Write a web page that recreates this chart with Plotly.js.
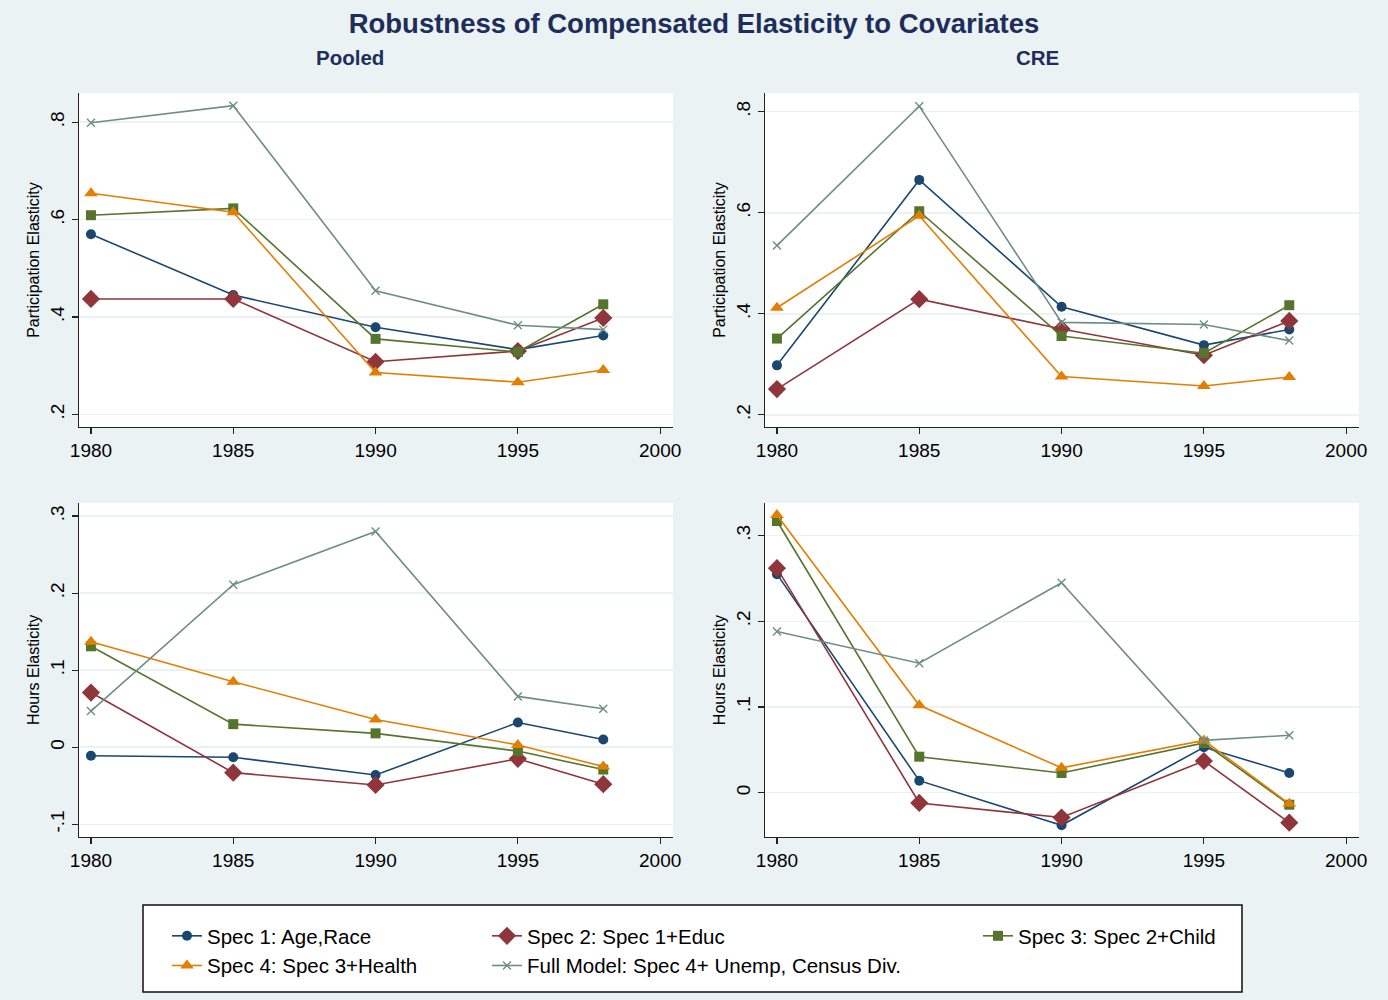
<!DOCTYPE html>
<html>
<head>
<meta charset="utf-8">
<script src="https://cdn.plot.ly/plotly-3.0.1.min.js"></script>
<style>html,body{margin:0;padding:0;background:#eaf2f3;}#chart{width:1388px;height:1000px;}</style>
</head>
<body>
<div id="chart"></div>
<script>
// ---- data ----
const years = [1980, 1985, 1990, 1995, 1998];
const seriesNames = ["Spec 1: Age,Race", "Spec 2: Spec 1+Educ", "Spec 3: Spec 2+Child", "Spec 4: Spec 3+Health", "Full Model: Spec 4+ Unemp, Census Div."];

// Pooled – participation elasticity
const pooledPartSpec1 = [0.570, 0.445, 0.379, 0.333, 0.362];
const pooledPartSpec2 = [0.437, 0.437, 0.308, 0.330, 0.398];
const pooledPartSpec3 = [0.609, 0.623, 0.355, 0.328, 0.426];
const pooledPartSpec4 = [0.654, 0.615, 0.286, 0.266, 0.291];
const pooledPartFull  = [0.799, 0.834, 0.454, 0.383, 0.374];

// CRE – participation elasticity
const crePartSpec1 = [0.298, 0.665, 0.414, 0.338, 0.369];
const crePartSpec2 = [0.251, 0.429, 0.370, 0.318, 0.386];
const crePartSpec3 = [0.351, 0.603, 0.356, 0.322, 0.417];
const crePartSpec4 = [0.412, 0.594, 0.276, 0.257, 0.275];
const crePartFull  = [0.535, 0.811, 0.383, 0.379, 0.347];

// Pooled – hours elasticity
const pooledHoursSpec1 = [-0.011, -0.013, -0.036, 0.032, 0.010];
const pooledHoursSpec2 = [0.071, -0.033, -0.049, -0.015, -0.048];
const pooledHoursSpec3 = [0.131, 0.030, 0.018, -0.005, -0.029];
const pooledHoursSpec4 = [0.137, 0.085, 0.036, 0.003, -0.025];
const pooledHoursFull  = [0.047, 0.211, 0.280, 0.066, 0.050];

// CRE – hours elasticity
const creHoursSpec1 = [0.255, 0.014, -0.038, 0.053, 0.023];
const creHoursSpec2 = [0.262, -0.012, -0.029, 0.037, -0.035];
const creHoursSpec3 = [0.317, 0.042, 0.023, 0.058, -0.014];
const creHoursSpec4 = [0.324, 0.102, 0.029, 0.061, -0.013];
const creHoursFull  = [0.188, 0.151, 0.245, 0.061, 0.067];

const xTickVals = [1980, 1985, 1990, 1995, 2000];
const partTickVals = [0.2, 0.4, 0.6, 0.8];
const partTickText = [".2", ".4", ".6", ".8"];
const pooledHoursTickVals = [-0.1, 0, 0.1, 0.2, 0.3];
const pooledHoursTickText = ["-.1", "0", ".1", ".2", ".3"];
const creHoursTickVals = [0, 0.1, 0.2, 0.3];
const creHoursTickText = ["0", ".1", ".2", ".3"];

// ---- styles ----
const FONT = "Liberation Sans, Arial, Helvetica, sans-serif";
const colors = ["#1a476f", "#90353b", "#55752f", "#e37e00", "#6e8e84"];
const markers = [
  {symbol: "circle", size: 10},
  {symbol: "diamond", size: 14},
  {symbol: "square", size: 10},
  {symbol: "triangle-up", size: 12},
  {symbol: "x-thin-open", size: 8}
];
const legendFor = ["legend", "legend2", "legend3", "legend", "legend2"];

const panels = [
  {xa: "x",  ya: "y",  data: [pooledPartSpec1, pooledPartSpec2, pooledPartSpec3, pooledPartSpec4, pooledPartFull]},
  {xa: "x2", ya: "y2", data: [crePartSpec1, crePartSpec2, crePartSpec3, crePartSpec4, crePartFull]},
  {xa: "x3", ya: "y3", data: [pooledHoursSpec1, pooledHoursSpec2, pooledHoursSpec3, pooledHoursSpec4, pooledHoursFull]},
  {xa: "x4", ya: "y4", data: [creHoursSpec1, creHoursSpec2, creHoursSpec3, creHoursSpec4, creHoursFull]}
];

const traces = [];
panels.forEach((p, pi) => {
  p.data.forEach((vals, si) => {
    traces.push({
      type: "scatter", mode: "lines+markers",
      x: years, y: vals, xaxis: p.xa, yaxis: p.ya,
      name: seriesNames[si],
      legend: legendFor[si],
      showlegend: pi === 0,
      line: {color: colors[si], width: 1.6},
      marker: {color: colors[si], symbol: markers[si].symbol, size: markers[si].size,
               line: {color: colors[si], width: si === 4 ? 1.4 : 0}},
      hoverinfo: "x+y+name"
    });
  });
});

// ---- layout ----
const W = 1388, H = 1000;
const px = v => v / W;
const py = v => 1 - v / H;

function xAxis(domain) {
  return {
    domain: domain, range: [1979.58, 2000.45], tickvals: xTickVals,
    ticks: "outside", ticklen: 6, tickwidth: 1.2, tickcolor: "#222",
    showline: true, linecolor: "#222", linewidth: 1.2, showgrid: false, zeroline: false,
    tickfont: {family: FONT, size: 19, color: "#000"}, fixedrange: true
  };
}
function yAxis(domain, range, vals, text, title) {
  return {
    domain: domain, range: range, tickvals: vals, ticktext: text, tickangle: -90,
    ticks: "outside", ticklen: 6, tickwidth: 1.2, tickcolor: "#222",
    showline: true, linecolor: "#222", linewidth: 1.2,
    showgrid: true, gridcolor: "#eaf2f3", gridwidth: 1.5, zeroline: false,
    tickfont: {family: FONT, size: 19, color: "#000"},
    title: {text: title, font: {family: FONT, size: 16, color: "#000"}, standoff: 3},
    fixedrange: true
  };
}

const xLeft = [px(79), px(673)];
const xRight = [px(765), px(1359)];
const yTop = [py(427), py(93)];
const yBot = [py(837), py(503)];

const legendBase = {
  orientation: "v", bgcolor: "rgba(0,0,0,0)", borderwidth: 0,
  font: {family: FONT, size: 20.5, color: "#000"},
  xanchor: "left", yanchor: "top", itemwidth: 30, tracegroupgap: 0
};

const layout = {
  width: W, height: H,
  paper_bgcolor: "#eaf2f3", plot_bgcolor: "#ffffff",
  margin: {l: 0, r: 0, t: 0, b: 0},
  font: {family: FONT},
  title: {text: "<b>Robustness of Compensated Elasticity to Covariates</b>",
          x: 0.5, xanchor: "center", y: py(23), yanchor: "middle", yref: "paper",
          font: {family: FONT, size: 27.5, color: "#1e2d5a"}},
  xaxis: Object.assign(xAxis(xLeft), {anchor: "y"}),
  yaxis: Object.assign(yAxis(yTop, [0.174, 0.860], partTickVals, partTickText, "Participation Elasticity"), {anchor: "x"}),
  xaxis2: Object.assign(xAxis(xRight), {anchor: "y2"}),
  yaxis2: Object.assign(yAxis(yTop, [0.176, 0.837], partTickVals, partTickText, "Participation Elasticity"), {anchor: "x2"}),
  xaxis3: Object.assign(xAxis(xLeft), {anchor: "y3"}),
  yaxis3: Object.assign(yAxis(yBot, [-0.1165, 0.317], pooledHoursTickVals, pooledHoursTickText, "Hours Elasticity"), {anchor: "x3"}),
  xaxis4: Object.assign(xAxis(xRight), {anchor: "y4"}),
  yaxis4: Object.assign(yAxis(yBot, [-0.0517, 0.338], creHoursTickVals, creHoursTickText, "Hours Elasticity"), {anchor: "x4"}),
  annotations: [
    {text: "<b>Pooled</b>", xref: "paper", yref: "paper", x: px(350), y: py(57), xanchor: "center", yanchor: "middle",
     showarrow: false, font: {family: FONT, size: 20.5, color: "#1e2d5a"}},
    {text: "<b>CRE</b>", xref: "paper", yref: "paper", x: px(1037), y: py(57), xanchor: "center", yanchor: "middle",
     showarrow: false, font: {family: FONT, size: 20.5, color: "#1e2d5a"}}
  ],
  shapes: [
    {type: "rect", xref: "paper", yref: "paper", x0: px(143), x1: px(1242), y0: py(992), y1: py(905),
     fillcolor: "#ffffff", line: {color: "#111", width: 1.5}, layer: "below"}
  ],
  legend:  Object.assign({}, legendBase, {x: px(167), y: py(916)}),
  legend2: Object.assign({}, legendBase, {x: px(487), y: py(916)}),
  legend3: Object.assign({}, legendBase, {x: px(978), y: py(916)}),
  showlegend: true
};

Plotly.newPlot("chart", traces, layout, {displayModeBar: false, staticPlot: true});
</script>
</body>
</html>
